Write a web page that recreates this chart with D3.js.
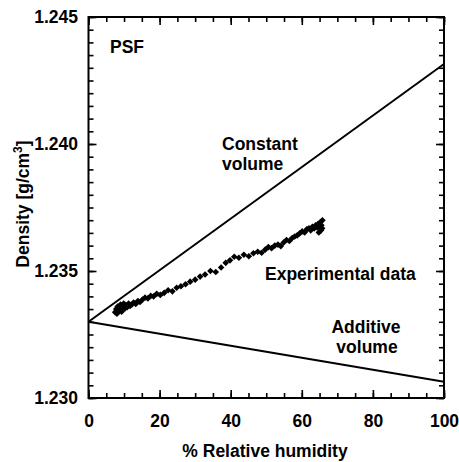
<!DOCTYPE html>
<html>
<head>
<meta charset="utf-8">
<script src="https://cdn.jsdelivr.net/npm/d3@7"></script>
<style>
  body { margin: 0; background: #fff; }
  text { font-family: "Liberation Sans", Arial, sans-serif; font-weight: bold; }
</style>
</head>
<body>
<div id="chart"></div>
<script>
// model lines (start and end of each)
var constantX = [0, 100];
var constantY = [1.2330, 1.24315];
var additiveX = [0, 100];
var additiveY = [1.2330, 1.23064];

// experimental data
var rh = [7.5, 7.8, 8.0, 8.2, 8.5, 8.8, 9.0, 9.3, 9.6, 9.9, 10.2, 10.5, 10.9, 11.3, 11.7,
          12.2, 12.7, 13.3, 13.9, 14.5, 15.2, 15.9, 16.7, 17.5, 18.3, 19.2, 20.2, 21.3,
          22.4, 23.6, 24.8, 26.0, 27.3, 28.6, 30.0, 31.4, 32.8, 34.3, 35.8, 37.3, 38.6,
          39.8, 41.0, 42.3, 43.7, 45.1, 46.4, 47.6, 48.7, 49.7, 50.6, 51.5, 52.4, 53.3,
          54.1, 54.9, 55.7, 56.5, 57.3, 58.0, 58.7, 59.4, 60.1, 60.8, 61.4, 62.0, 62.5,
          63.0, 63.5, 63.9, 64.3, 64.6, 64.9, 65.2, 65.5, 65.8, 64.8, 65.4, 65.7];
var density = [1.23338, 1.23350, 1.23332, 1.23360, 1.23342, 1.23355, 1.23368, 1.23340, 1.23358,
               1.23372, 1.23352, 1.23366, 1.23358, 1.23372, 1.23362, 1.23368, 1.23376, 1.23370,
               1.23382, 1.23378, 1.23388, 1.23395, 1.23392, 1.23402, 1.23400, 1.23410, 1.23406,
               1.23414, 1.23424, 1.23420, 1.23434, 1.23440, 1.23448, 1.23458, 1.23466, 1.23478,
               1.23486, 1.23500, 1.23496, 1.23514, 1.23532, 1.23542, 1.23556, 1.23552, 1.23564,
               1.23558, 1.23570, 1.23576, 1.23572, 1.23584, 1.23594, 1.23590, 1.23600, 1.23604,
               1.23598, 1.23612, 1.23622, 1.23618, 1.23630, 1.23636, 1.23640, 1.23648, 1.23656,
               1.23652, 1.23664, 1.23668, 1.23660, 1.23674, 1.23668, 1.23680, 1.23672, 1.23686,
               1.23676, 1.23692, 1.23680, 1.23700, 1.23652, 1.23660, 1.23668];

// ticks
var xMajor = [0, 20, 40, 60, 80, 100];
var yMajor = [1.230, 1.235, 1.240, 1.245];
var xMinor = d3.range(0, 101, 5);
var yMinor = d3.range(0, 31).map(function(i) { return 1.230 + i * 0.0005; });

var W = 459, H = 462;
var mLeft = 88.5, mTop = 17, mRight = 444, mBottom = 398;
var w = mRight - mLeft, h = mBottom - mTop;
var fs = "17.5px";

var svg = d3.select("#chart").append("svg")
    .attr("width", W).attr("height", H);

var x = d3.scaleLinear().domain([0, 100]).range([0, w]);
var y = d3.scaleLinear().domain([1.230, 1.245]).range([h, 0]);

var g = svg.append("g").attr("transform", "translate(" + mLeft + "," + mTop + ")");

function styleAxis(sel, labels) {
  sel.select(".domain").remove();
  sel.selectAll("line").attr("stroke", "#000").attr("stroke-width", 1.6);
  sel.selectAll("text").attr("fill", "#000").attr("font-size", fs)
     .attr("font-family", "'Liberation Sans', Arial, sans-serif")
     .attr("font-weight", "bold");
  if (!labels) sel.selectAll("text").remove();
}

// bottom
g.append("g").attr("transform", "translate(0," + h + ")")
  .call(d3.axisBottom(x).tickValues(xMinor).tickSize(-5).tickFormat(""))
  .call(styleAxis, false);
g.append("g").attr("transform", "translate(0," + h + ")")
  .call(d3.axisBottom(x).tickValues(xMajor).tickSize(-8).tickPadding(16.5).tickFormat(d3.format("d")))
  .call(styleAxis, true);
// top
g.append("g")
  .call(d3.axisTop(x).tickValues(xMinor).tickSize(-5).tickFormat(""))
  .call(styleAxis, false);
g.append("g")
  .call(d3.axisTop(x).tickValues(xMajor).tickSize(-8).tickFormat(""))
  .call(styleAxis, false);
// left
g.append("g")
  .call(d3.axisLeft(y).tickValues(yMinor).tickSize(-5).tickFormat(""))
  .call(styleAxis, false);
g.append("g")
  .call(d3.axisLeft(y).tickValues(yMajor).tickSize(-8).tickPadding(10.5).tickFormat(d3.format(".3f")))
  .call(styleAxis, true);
// right
g.append("g").attr("transform", "translate(" + w + ",0)")
  .call(d3.axisRight(y).tickValues(yMinor).tickSize(-5).tickFormat(""))
  .call(styleAxis, false);
g.append("g").attr("transform", "translate(" + w + ",0)")
  .call(d3.axisRight(y).tickValues(yMajor).tickSize(-8).tickFormat(""))
  .call(styleAxis, false);

// frame
g.append("rect").attr("width", w).attr("height", h)
  .attr("fill", "none").attr("stroke", "#000").attr("stroke-width", 2);

var line = d3.line()
  .x(function(d) { return x(d[0]); })
  .y(function(d) { return y(d[1]); });

g.append("path")
  .datum(d3.zip(constantX, constantY))
  .attr("d", line)
  .attr("fill", "none").attr("stroke", "#000").attr("stroke-width", 2);

g.append("path")
  .datum(d3.zip(additiveX, additiveY))
  .attr("d", line)
  .attr("fill", "none").attr("stroke", "#000").attr("stroke-width", 2);

// data points (small diamonds)
g.selectAll(".pt")
  .data(d3.zip(rh, density))
  .enter()
  .append("path")
  .attr("class", "pt")
  .attr("d", d3.symbol().type(d3.symbolSquare).size(22))
  .attr("transform", function(d) { return "translate(" + x(d[0]) + "," + y(d[1]) + ") rotate(45)"; })
  .attr("fill", "#000");

// annotations
function label(tx, ty, str, anchor) {
  svg.append("text").attr("x", tx).attr("y", ty)
    .attr("text-anchor", anchor || "start")
    .attr("font-size", fs).attr("fill", "#000")
    .text(str);
}
label(110, 53, "PSF");
label(222, 150, "Constant");
label(222, 170, "volume");
label(265, 280, "Experimental data");
label(366, 333, "Additive", "middle");
label(367, 353, "volume", "middle");

// axis titles
svg.append("text")
  .attr("x", 265).attr("y", 457)
  .attr("text-anchor", "middle").attr("font-size", fs)
  .text("% Relative humidity");

var yt = svg.append("text")
  .attr("transform", "translate(29,204) rotate(-90)")
  .attr("text-anchor", "middle").attr("font-size", fs);
yt.append("tspan").text("Density [g/cm");
yt.append("tspan").attr("font-size", "12px").attr("dy", "-7").text("3");
yt.append("tspan").attr("dy", "7").text("]");
</script>
</body>
</html>
